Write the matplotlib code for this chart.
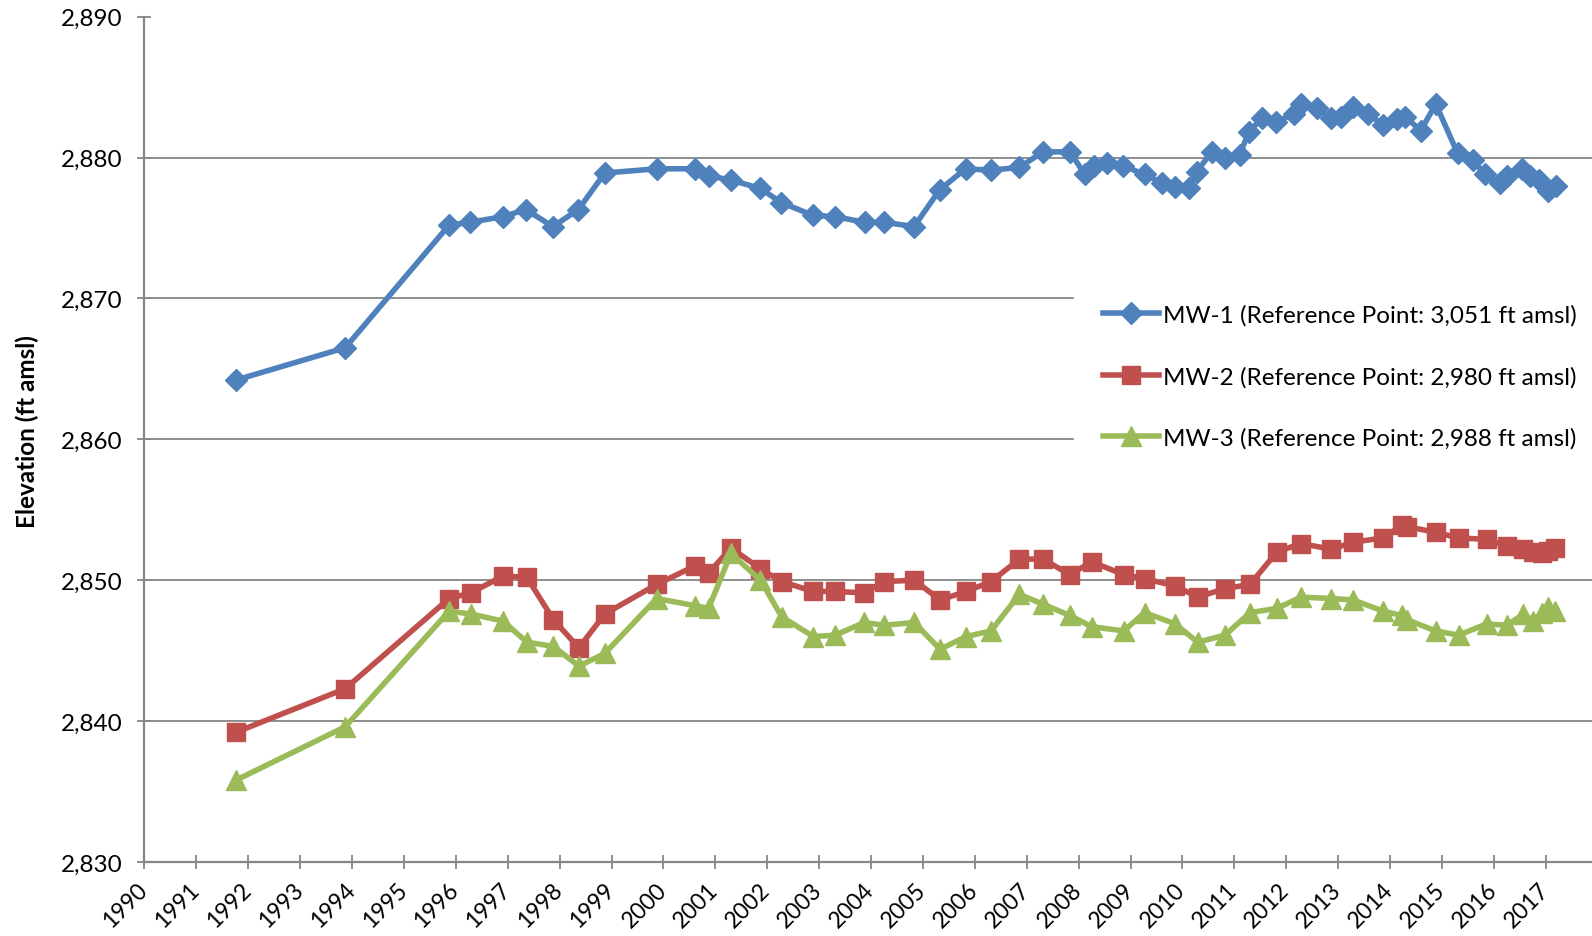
import numpy as np
import matplotlib
matplotlib.use("Agg")
import matplotlib.pyplot as plt
import matplotlib.transforms as mtransforms

plt.rcParams['font.family'] = ['Lato', 'DejaVu Sans']

# sampling dates as decimal years
dates_mw1 = [1991.76, 1993.87, 1995.87, 1996.27, 1996.90, 1997.35, 1997.87, 1998.36, 1998.87,
             1999.88, 2000.60, 2000.87, 2001.30, 2001.87, 2002.27, 2002.88, 2003.31, 2003.88,
             2004.25, 2004.83, 2005.32, 2005.82, 2006.31, 2006.86, 2007.31, 2007.83, 2008.12,
             2008.30, 2008.55, 2008.86, 2009.27, 2009.60, 2009.86, 2010.13, 2010.28, 2010.56,
             2010.82, 2011.10, 2011.28, 2011.53, 2011.80, 2012.14, 2012.28, 2012.59, 2012.86,
             2013.05, 2013.28, 2013.58, 2013.87, 2014.13, 2014.29, 2014.59, 2014.88, 2015.30,
             2015.59, 2015.83, 2016.12, 2016.25, 2016.54, 2016.70, 2016.86, 2017.05, 2017.20]
mw1 = [2864.2, 2866.5, 2875.2, 2875.4, 2875.8, 2876.3, 2875.1, 2876.3, 2878.9,
       2879.2, 2879.2, 2878.7, 2878.4, 2877.8, 2876.8, 2875.9, 2875.8, 2875.4,
       2875.4, 2875.1, 2877.7, 2879.2, 2879.1, 2879.3, 2880.4, 2880.4, 2878.8,
       2879.4, 2879.6, 2879.4, 2878.8, 2878.2, 2877.9, 2877.8, 2879.0, 2880.4,
       2880.0, 2880.2, 2881.8, 2882.8, 2882.5, 2883.1, 2883.8, 2883.5, 2882.8,
       2882.9, 2883.6, 2883.1, 2882.3, 2882.7, 2882.9, 2881.9, 2883.8, 2880.3,
       2879.8, 2878.8, 2878.2, 2878.7, 2879.2, 2878.7, 2878.4, 2877.6, 2878.0]

dates_mw23 = [1991.76, 1993.87, 1995.87, 1996.29, 1996.91, 1997.37, 1997.88, 1998.37, 1998.87,
              1999.87, 2000.60, 2000.87, 2001.30, 2001.87, 2002.28, 2002.89, 2003.31, 2003.87,
              2004.25, 2004.83, 2005.33, 2005.83, 2006.31, 2006.86, 2007.31, 2007.83, 2008.25,
              2008.87, 2009.27, 2009.86, 2010.29, 2010.82, 2011.30, 2011.82, 2012.28, 2012.87,
              2013.29, 2013.87, 2014.22, 2014.32, 2014.88, 2015.32, 2015.86, 2016.25, 2016.57,
              2016.76, 2016.93, 2017.05, 2017.18]
mw2 = [2839.2, 2842.3, 2848.7, 2849.1, 2850.3, 2850.2, 2847.2, 2845.2, 2847.6,
       2849.7, 2851.0, 2850.5, 2852.3, 2850.8, 2849.9, 2849.2, 2849.2, 2849.1,
       2849.9, 2850.0, 2848.6, 2849.2, 2849.9, 2851.5, 2851.5, 2850.4, 2851.3,
       2850.4, 2850.1, 2849.6, 2848.8, 2849.4, 2849.7, 2852.0, 2852.6, 2852.2,
       2852.7, 2853.0, 2853.9, 2853.8, 2853.4, 2853.0, 2852.9, 2852.4, 2852.2,
       2852.0, 2851.9, 2852.1, 2852.3]
mw3 = [2835.8, 2839.6, 2847.8, 2847.6, 2847.1, 2845.6, 2845.3, 2843.9, 2844.8,
       2848.7, 2848.2, 2848.0, 2851.9, 2850.0, 2847.4, 2846.0, 2846.1, 2847.0,
       2846.8, 2847.0, 2845.1, 2846.0, 2846.4, 2849.0, 2848.3, 2847.5, 2846.7,
       2846.4, 2847.7, 2846.9, 2845.6, 2846.1, 2847.7, 2848.0, 2848.8, 2848.7,
       2848.6, 2847.8, 2847.5, 2847.2, 2846.4, 2846.1, 2846.9, 2846.8, 2847.6,
       2847.1, 2847.7, 2848.1, 2847.8]

labels = ["MW-1 (Reference Point: 3,051 ft amsl)",
          "MW-2 (Reference Point: 2,980 ft amsl)",
          "MW-3 (Reference Point: 2,988 ft amsl)"]
year_ticks = list(range(1990, 2018))
y_ticks = [2830, 2840, 2850, 2860, 2870, 2880, 2890]

fig = plt.figure(figsize=(15.92, 9.37), dpi=100)
ax = fig.add_axes([144.4/1592, 1-863/937, 1-144.4/1592, (863-17.6)/937])

gray = '#868686'
ax.plot(dates_mw1, mw1, color='#4F81BD', lw=4, marker='D', ms=11, label=labels[0], zorder=3)
ax.plot(dates_mw23, mw2, color='#C0504D', lw=4, marker='s', ms=13, label=labels[1], zorder=3)
ax.plot(dates_mw23, mw3, color='#9BBB59', lw=4, marker='^', ms=14, label=labels[2], zorder=3)

ax.set_xlim(1990, 2017.89)
ax.set_ylim(2830, 2890)
ax.set_xticks(year_ticks)
ax.set_yticks(y_ticks)
ax.set_yticklabels([f"{v:,}" for v in y_ticks])
ax.set_xticklabels([str(y) for y in year_ticks], rotation=45, ha='right')

ax.yaxis.grid(True, color=gray, lw=1.3)
ax.get_ygridlines()[-1].set_visible(False)
ax.set_axisbelow(True)

for side in ['top', 'right']:
    ax.spines[side].set_visible(False)
for side in ['left', 'bottom']:
    ax.spines[side].set_color(gray)
    ax.spines[side].set_linewidth(1.6)
ax.tick_params(axis='both', direction='inout', length=10, width=1.3, color=gray,
               labelcolor='black')
ax.tick_params(axis='y', pad=11, labelsize=17.5)
ax.tick_params(axis='x', pad=7, labelsize=16.5)

offset = mtransforms.ScaledTranslation(0.07, 0, fig.dpi_scale_trans)
for lab in ax.get_xticklabels():
    lab.set_transform(lab.get_transform() + offset)

fig.text(27/1592, 1-432/937, "Elevation (ft amsl)", rotation=90, fontsize=17.5,
         fontweight='bold', ha='center', va='center')

leg = ax.legend(loc='upper left', bbox_to_anchor=(1074/1592, 1-276/937),
                bbox_transform=fig.transFigure, borderaxespad=0, borderpad=1.2,
                handlelength=2.3, handletextpad=0.15, labelspacing=1.65,
                fontsize=17.5, frameon=True, fancybox=False, numpoints=1)
leg.get_frame().set_facecolor('white')
leg.get_frame().set_edgecolor('white')
leg.get_frame().set_alpha(1)

fig.savefig("out.png", dpi=100)
